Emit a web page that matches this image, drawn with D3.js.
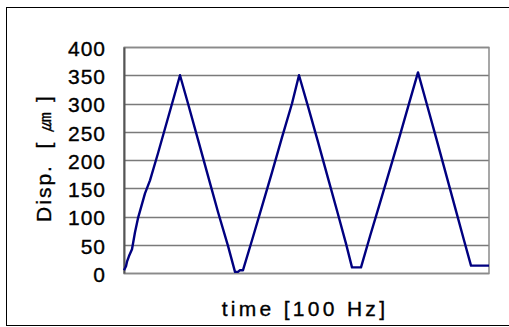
<!DOCTYPE html>
<html>
<head>
<meta charset="utf-8">
<script src="https://cdn.jsdelivr.net/npm/d3@7"></script>
<style>
	html, body { margin: 0; padding: 0; background: #fff; }
	svg { display: block; }
	text { font-family: "Liberation Sans", Arial, sans-serif; fill: #000; stroke: #000; stroke-width: 0.35px; }
</style>
</head>
<body>
<script>
// sample index (time, 100 Hz) and displacement in µm
const time = [0, 2, 3, 5, 8, 11, 14, 21, 26, 34, 42, 50, 56,
	64, 74, 84, 94, 104, 111, 114, 116, 119,
	128, 138, 148, 158, 168, 175,
	184, 194, 204, 214, 222, 228, 237,
	246, 256, 266, 276, 286, 294,
	302, 312, 322, 332, 340, 347, 365];
const disp = [5, 12, 20, 30, 42, 72, 97, 141, 164, 212, 262, 312, 350,
	300, 236, 172, 108, 48, 2, 2, 5, 5,
	58, 118, 178, 240, 300, 350,
	295, 232, 168, 104, 52, 10, 10,
	65, 124, 184, 244, 306, 355,
	304, 240, 175, 110, 58, 13, 13];
const yticks = [0, 50, 100, 150, 200, 250, 300, 350, 400];

const W = 509, H = 327;
const m = { left: 124, top: 47, right: 489, bottom: 273 };

const svg = d3.select('body').append('svg')
	.attr('width', W)
	.attr('height', H);

// outer chart frame, runs off the right edge like the picture
svg.append('rect')
	.attr('x', 6.5).attr('y', 7.5)
	.attr('width', W + 10).attr('height', 318)
	.attr('fill', 'none')
	.attr('stroke', '#000');

const x = d3.scaleLinear().domain([0, 365]).range([m.left, m.right]);
const y = d3.scaleLinear().domain([0, 400]).range([m.bottom, m.top]);

// gridlines
svg.append('g')
	.selectAll('line')
	.data(yticks)
	.enter().append('line')
	.attr('x1', m.left).attr('x2', m.right)
	.attr('y1', d => Math.round(y(d)) + 0.5)
	.attr('y2', d => Math.round(y(d)) + 0.5)
	.attr('stroke', '#7a7a7a')
	.attr('stroke-width', 1.3);

// plot frame
svg.append('rect')
	.attr('x', m.left).attr('y', m.top + 0.5)
	.attr('width', m.right - m.left).attr('height', m.bottom - m.top)
	.attr('fill', 'none')
	.attr('stroke', '#8a8a8a')
	.attr('stroke-width', 1.5);

const yaxis = svg.append('g')
	.attr('transform', `translate(${m.left},0)`)
	.call(d3.axisLeft(y).tickValues(yticks).tickSize(0).tickPadding(18));
yaxis.select('.domain')
	.attr('stroke', '#555')
	.attr('stroke-width', 2);
yaxis.selectAll('text')
	.attr('font-size', 21)
	.attr('font-family', '"Liberation Sans", Arial, sans-serif')
	.attr('letter-spacing', 1)
	.attr('dy', '0.4em');

const pts = time.map((t, i) => [t, disp[i]]);

svg.append('path')
	.datum(pts)
	.attr('fill', 'none')
	.attr('stroke', '#000080')
	.attr('stroke-width', 2.4)
	.attr('stroke-linejoin', 'round')
	.attr('d', d3.line().x(d => x(d[0])).y(d => y(d[1])));

// axis titles
svg.append('text')
	.attr('x', 305).attr('y', 316)
	.attr('text-anchor', 'middle')
	.attr('font-size', 21)
	.attr('letter-spacing', 3.3)
	.style('white-space', 'pre')
	.text('time [100 Hz]');

svg.append('text')
	.attr('transform', 'translate(51,158) rotate(-90)')
	.attr('text-anchor', 'middle')
	.attr('font-size', 21)
	.attr('letter-spacing', 2)
	.style('white-space', 'pre')
	.text('Disp.  [ ㎛ ]');
</script>
</body>
</html>
